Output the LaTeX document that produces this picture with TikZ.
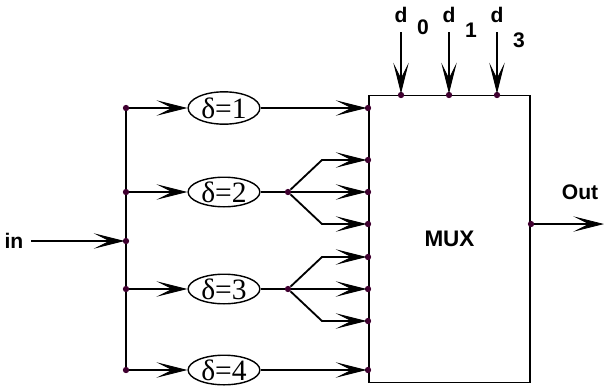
\documentclass[tikz,border=0pt]{standalone}
\usepackage{fontspec}
\setmainfont{Liberation Serif}
\setsansfont{Liberation Sans}
\usetikzlibrary{arrows.meta,positioning,shapes.geometric}
\definecolor{pinpurple}{RGB}{64,0,48}
\tikzset{
  delay/.style={ellipse, draw=black, line width=1pt, minimum width=51pt, minimum height=19pt, inner sep=0pt, font=\fontsize{21}{21}\selectfont},
  tall/.style={minimum height=23pt},
  muxbox/.style={rectangle, draw=black, line width=1.3pt, minimum width=115pt, minimum height=204pt, inner sep=0pt, font=\sffamily\bfseries\fontsize{16}{16}\selectfont},
  pin/.style={circle, fill=pinpurple, inner sep=0pt, minimum size=4.5pt},
  lbl/.style={inner sep=0pt, font=\sffamily\bfseries\fontsize{15}{15}\selectfont},
  >={Stealth[length=22pt,width=11pt,inset=11pt,line width=0.6pt]},
  sig/.style={->, line width=1.3pt, shorten >=-1.5pt},
  wire/.style={line width=1.3pt}
}

\begin{document}
\begin{tikzpicture}[x=0.025cm, y=-0.025cm]
  \useasboundingbox (0,0) rectangle (604,389);
  % multiplexer
  \node[muxbox] (mux) at (449.5,239) {MUX};
  % input bus
  \node[lbl] (inlbl) at (14,241) {in};
  \node[pin] (b1) at (126,108) {};
  \node[pin] (b2) at (126,192) {};
  \node[pin] (bc) at (126,241) {};
  \node[pin] (b3) at (126,289) {};
  \node[pin] (b4) at (126,370) {};
  \draw[wire] (b1) -- (b2) -- (bc) -- (b3) -- (b4);
  \coordinate (instart) at (31,241);
  \draw[sig] (instart) -- (bc);
  % delays
  \node[delay, tall] (d1) at (224,108) {δ=1};
  \node[delay] (d2) at (224,192) {δ=2};
  \node[delay] (d3) at (224,289) {δ=3};
  \node[delay] (d4) at (224,370) {δ=4};
  \foreach \i in {1,...,4}
    \draw[sig, shorten >=0pt] (b\i) -- (d\i);
  % mux inputs
  \foreach \n/\y in {m1/108, m2/160, m3/192, m4/224, m5/257, m6/289, m7/321, m8/370}
    \node[pin] (\n) at (368,\y) {};
  \node[pin] (f2) at (288,192) {};
  \node[pin] (f3) at (288,289) {};
  \coordinate (k2) at (322,160);
  \coordinate (k4) at (322,224);
  \coordinate (k5) at (322,257);
  \coordinate (k7) at (322,321);
  \draw[wire] (d2) -- (f2);
  \draw[wire] (d3) -- (f3);
  \draw[sig] (d1) -- (m1);
  \draw[sig] (f2) -- (k2) -- (m2);
  \draw[sig] (f2) -- (m3);
  \draw[sig] (f2) -- (k4) -- (m4);
  \draw[sig] (f3) -- (k5) -- (m5);
  \draw[sig] (f3) -- (m6);
  \draw[sig] (f3) -- (k7) -- (m7);
  \draw[sig] (d4) -- (m8);
  % select lines
  \foreach \s/\x/\sub/\sy in {0/401/0/27, 1/449/1/30, 2/497/3/40} {
    \node[pin] (s\s) at (\x,95) {};
    \node[lbl] (dl\s) at (\x,15) {d};
    \node[lbl] (ds\s) at (\x+22,\sy) {\sub};
    \coordinate (st\s) at (\x,32);
    \draw[sig] (st\s) -- (s\s);
  }
  % output
  \node[pin] (outpin) at (531,224) {};
  \coordinate (outend) at (604,224);
  \draw[sig, shorten >=0pt] (outpin) -- (outend);
  \node[lbl] (outlbl) at (580,192) {Out};
\end{tikzpicture}
\end{document}
